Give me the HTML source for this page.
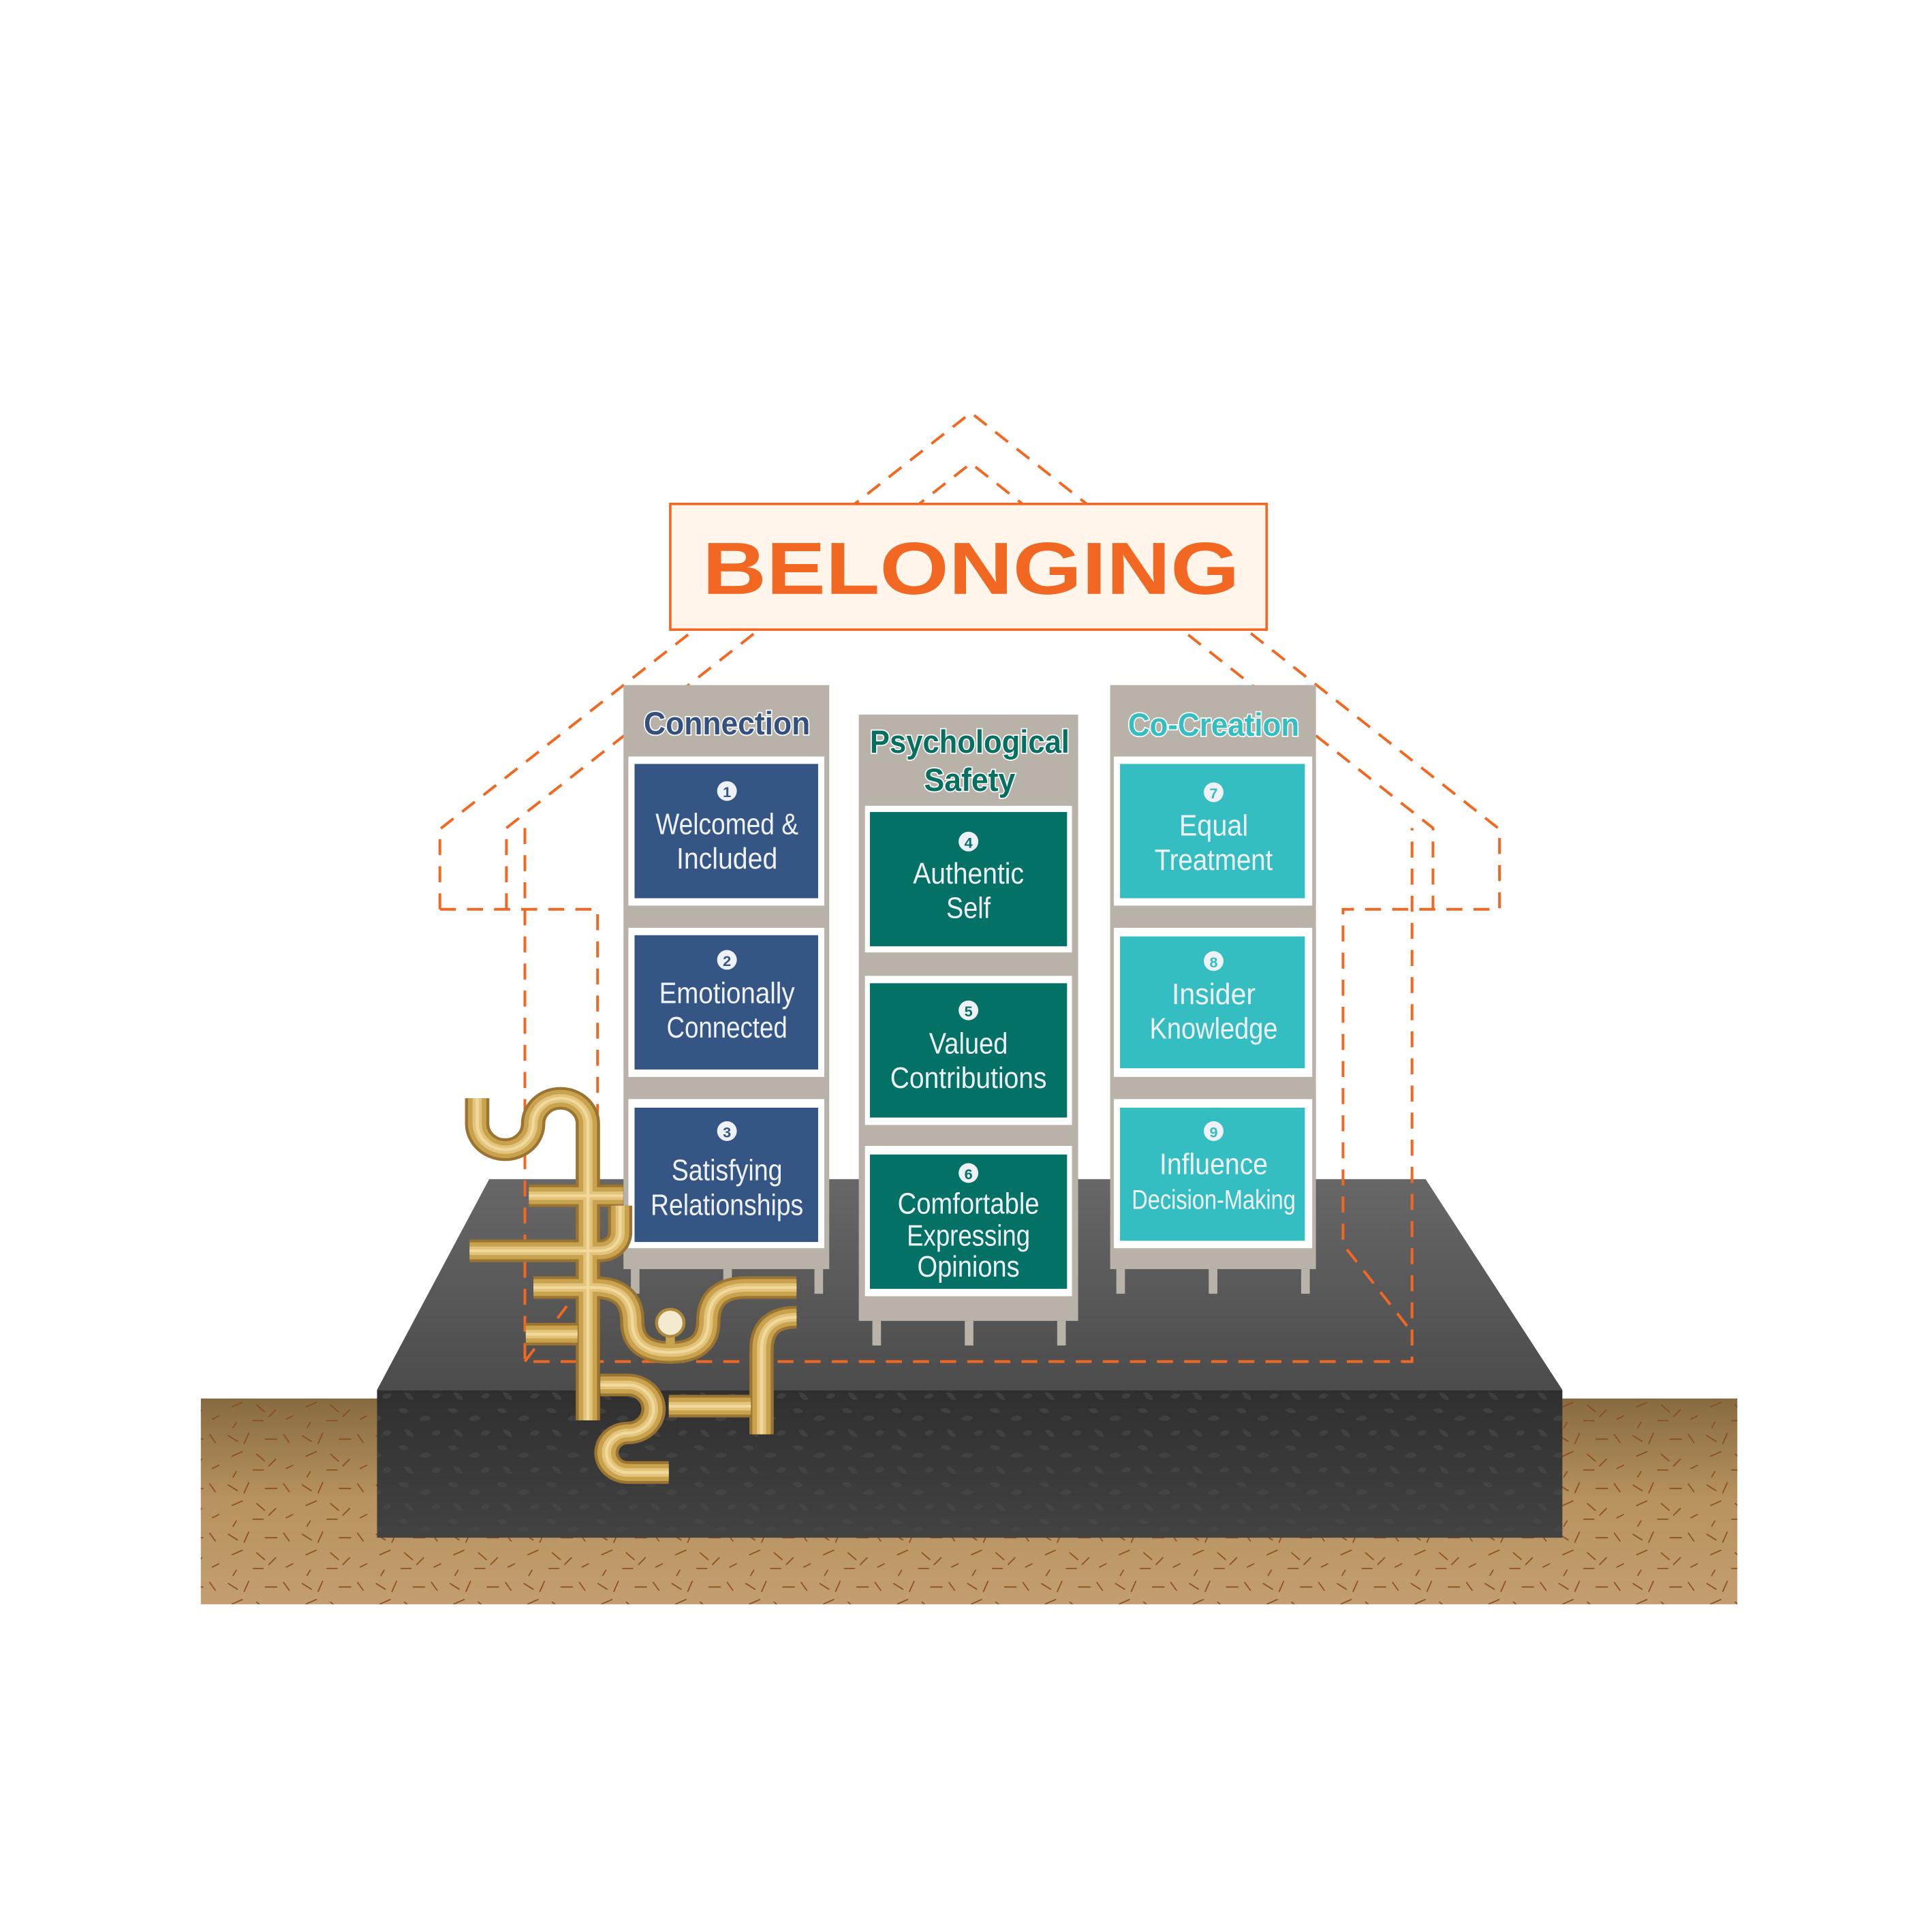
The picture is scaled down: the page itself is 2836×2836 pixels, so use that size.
<!DOCTYPE html>
<html><head><meta charset="utf-8"><style>
html,body{margin:0;padding:0;background:#fff;}
svg{display:block;}
text{font-family:"Liberation Sans",sans-serif;}
</style></head><body>
<svg width="2836" height="2836" viewBox="0 0 1568 1568" xmlns="http://www.w3.org/2000/svg">
<defs>
<linearGradient id="soil" x1="0" y1="0" x2="0" y2="1"><stop offset="0" stop-color="#876b40"/><stop offset="0.5" stop-color="#b8935f"/><stop offset="1" stop-color="#c29e70"/></linearGradient>
<linearGradient id="ptop" x1="0" y1="0" x2="0" y2="1"><stop offset="0" stop-color="#676767"/><stop offset="1" stop-color="#4c4c4c"/></linearGradient>
<linearGradient id="pfront" x1="0" y1="0" x2="0" y2="1"><stop offset="0" stop-color="#2f2f2f"/><stop offset="1" stop-color="#424242"/></linearGradient>
<pattern id="dash" width="60" height="40" patternUnits="userSpaceOnUse">
<g stroke="#8a4a1a" stroke-width="0.9">
<path d="M5 5l8 5M22 3l-4 9M35 8h10M50 4l5 7M8 22l9-4M28 20l7 6M44 24l-6 6M12 34l-3 5M25 33h9M52 32l6-3"/>
</g></pattern>
<pattern id="tex" width="40" height="30" patternUnits="userSpaceOnUse">
<g fill="#4a4a4a" opacity="0.6"><path d="M3 4q6-3 9 2q-5 3-9-2z M20 12q5-6 10-1q-4 4-10 1z M8 20q6 0 8 6q-6 1-8-6z M30 24q3-5 8-2q-3 5-8 2z"/></g></pattern>
</defs>

<rect x="163" y="1135" width="1247" height="167" fill="url(#soil)"/>
<rect x="163" y="1135" width="1247" height="167" fill="url(#dash)"/>
<polygon points="397,957 1157,957 1268,1128 306,1128" fill="url(#ptop)"/>
<rect x="306" y="1128" width="962" height="120" fill="url(#pfront)"/>
<rect x="306" y="1128" width="962" height="120" fill="url(#tex)"/>

<g fill="none" stroke="#f26822" stroke-width="2.2" stroke-dasharray="13 9">
<path d="M357,738 L357,673 L788,335 L1217,673 L1217,738 L1090,738 L1090,1010 L1145,1080"/>
<path d="M357,738 L485,738 L485,1000"/>
<path d="M411,738 L411,672 L788,376 L1163,672 L1163,738"/>
<path d="M426,672 L426,1105 L1146,1105 L1146,672"/>
<path d="M426,1105 L460,1060"/>
</g>

<rect x="544" y="409" width="484" height="102" fill="#fff5ea" stroke="#f26822" stroke-width="2"/>
<text x="788" y="482" text-anchor="middle" font-size="60" font-weight="bold" fill="#f26822" textLength="436" lengthAdjust="spacingAndGlyphs">BELONGING</text>

<g>
<rect x="506" y="556" width="167" height="474" fill="#b8b2a8"/>
<rect x="512" y="1030" width="7" height="20" fill="#b8b2a8"/><rect x="587" y="1030" width="7" height="20" fill="#b8b2a8"/><rect x="661" y="1030" width="7" height="20" fill="#b8b2a8"/>
<text x="590" y="596" text-anchor="middle" font-size="26" font-weight="bold" fill="#33507f" stroke="#fff" stroke-width="2" paint-order="stroke" textLength="135" lengthAdjust="spacingAndGlyphs">Connection</text>
<rect x="510" y="614" width="159" height="121" fill="#fff"/><rect x="515" y="620" width="149" height="109" fill="#355584"/>
<rect x="510" y="753" width="159" height="121" fill="#fff"/><rect x="515" y="759" width="149" height="109" fill="#355584"/>
<rect x="510" y="892" width="159" height="121" fill="#fff"/><rect x="515" y="899" width="149" height="109" fill="#355584"/>
<g font-size="24" fill="#eef1f5" text-anchor="middle">
<circle cx="590" cy="642" r="8" fill="#eef1f5"/><text x="590" y="647" font-size="12" font-weight="bold" fill="#355584">1</text>
<text x="590" y="677" textLength="116" lengthAdjust="spacingAndGlyphs">Welcomed &amp;</text><text x="590" y="705" textLength="82" lengthAdjust="spacingAndGlyphs">Included</text>
<circle cx="590" cy="779" r="8" fill="#eef1f5"/><text x="590" y="784" font-size="12" font-weight="bold" fill="#355584">2</text>
<text x="590" y="814" textLength="110" lengthAdjust="spacingAndGlyphs">Emotionally</text><text x="590" y="842" textLength="98" lengthAdjust="spacingAndGlyphs">Connected</text>
<circle cx="590" cy="918" r="8" fill="#eef1f5"/><text x="590" y="923" font-size="12" font-weight="bold" fill="#355584">3</text>
<text x="590" y="958" textLength="90" lengthAdjust="spacingAndGlyphs">Satisfying</text><text x="590" y="986" textLength="124" lengthAdjust="spacingAndGlyphs">Relationships</text>
</g></g>

<g>
<rect x="697" y="580" width="178" height="492" fill="#b8b2a8"/>
<rect x="708" y="1072" width="7" height="20" fill="#b8b2a8"/><rect x="783" y="1072" width="7" height="20" fill="#b8b2a8"/><rect x="858" y="1072" width="7" height="20" fill="#b8b2a8"/>
<text x="787" y="611" text-anchor="middle" font-size="26" font-weight="bold" fill="#05705f" stroke="#fff" stroke-width="2" paint-order="stroke" textLength="162" lengthAdjust="spacingAndGlyphs">Psychological</text>
<text x="787" y="642" text-anchor="middle" font-size="26" font-weight="bold" fill="#05705f" stroke="#fff" stroke-width="2" paint-order="stroke" textLength="74" lengthAdjust="spacingAndGlyphs">Safety</text>
<rect x="702" y="654" width="168" height="119" fill="#fff"/><rect x="706" y="659" width="160" height="109" fill="#037166"/>
<rect x="702" y="792" width="168" height="121" fill="#fff"/><rect x="706" y="798" width="160" height="109" fill="#037166"/>
<rect x="702" y="930" width="168" height="122" fill="#fff"/><rect x="706" y="937" width="160" height="109" fill="#037166"/>
<g font-size="24" fill="#eef1f5" text-anchor="middle">
<circle cx="786" cy="683" r="8" fill="#eef1f5"/><text x="786" y="688" font-size="12" font-weight="bold" fill="#037166">4</text>
<text x="786" y="717" textLength="90" lengthAdjust="spacingAndGlyphs">Authentic</text><text x="786" y="745" textLength="36" lengthAdjust="spacingAndGlyphs">Self</text>
<circle cx="786" cy="820" r="8" fill="#eef1f5"/><text x="786" y="825" font-size="12" font-weight="bold" fill="#037166">5</text>
<text x="786" y="855" textLength="64" lengthAdjust="spacingAndGlyphs">Valued</text><text x="786" y="883" textLength="127" lengthAdjust="spacingAndGlyphs">Contributions</text>
<circle cx="786" cy="952" r="8" fill="#eef1f5"/><text x="786" y="957" font-size="12" font-weight="bold" fill="#037166">6</text>
<text x="786" y="985" textLength="115" lengthAdjust="spacingAndGlyphs">Comfortable</text><text x="786" y="1011" textLength="100" lengthAdjust="spacingAndGlyphs">Expressing</text><text x="786" y="1036" textLength="83" lengthAdjust="spacingAndGlyphs">Opinions</text>
</g></g>

<g>
<rect x="901" y="556" width="167" height="474" fill="#b8b2a8"/>
<rect x="906" y="1030" width="7" height="20" fill="#b8b2a8"/><rect x="981" y="1030" width="7" height="20" fill="#b8b2a8"/><rect x="1056" y="1030" width="7" height="20" fill="#b8b2a8"/>
<text x="985" y="597" text-anchor="middle" font-size="26" font-weight="bold" fill="#33bfc0" stroke="#fff" stroke-width="2" paint-order="stroke" textLength="139" lengthAdjust="spacingAndGlyphs">Co-Creation</text>
<rect x="904" y="614" width="161" height="121" fill="#fff"/><rect x="909" y="620" width="150" height="109" fill="#35bec2"/>
<rect x="904" y="753" width="161" height="121" fill="#fff"/><rect x="909" y="760" width="150" height="107" fill="#35bec2"/>
<rect x="904" y="892" width="161" height="121" fill="#fff"/><rect x="909" y="899" width="150" height="108" fill="#35bec2"/>
<g font-size="24" fill="#eef1f5" text-anchor="middle">
<circle cx="985" cy="643" r="8" fill="#eef1f5"/><text x="985" y="648" font-size="12" font-weight="bold" fill="#35bec2">7</text>
<text x="985" y="678" textLength="56" lengthAdjust="spacingAndGlyphs">Equal</text><text x="985" y="706" textLength="96" lengthAdjust="spacingAndGlyphs">Treatment</text>
<circle cx="985" cy="780" r="8" fill="#eef1f5"/><text x="985" y="785" font-size="12" font-weight="bold" fill="#35bec2">8</text>
<text x="985" y="815" textLength="68" lengthAdjust="spacingAndGlyphs">Insider</text><text x="985" y="843" textLength="104" lengthAdjust="spacingAndGlyphs">Knowledge</text>
<circle cx="985" cy="918" r="8" fill="#eef1f5"/><text x="985" y="923" font-size="12" font-weight="bold" fill="#35bec2">9</text>
<text x="985" y="953" textLength="88" lengthAdjust="spacingAndGlyphs">Influence</text><text x="985" y="981" font-size="22" textLength="133" lengthAdjust="spacingAndGlyphs">Decision-Making</text>
</g></g>

<g transform="scale(0.55289) translate(600 1550) scale(0.44643 0.41459)" fill="none" stroke-linecap="butt">
<g id="pp">
<path d="M225,150 L225,240 A92,92 0 0 0 409,240 A90,90 0 0 1 589,240 L589,1290"/>
<path d="M395,495 L705,495"/>
<path d="M200,690 L630,690 A65,65 0 0 0 695,625 L695,530"/>
<path d="M410,820 L610,820 Q735,820 735,940 Q735,1050 860,1050 Q985,1050 985,940 Q985,820 1110,820 L1275,820"/>
<path d="M385,985 L555,985"/>
<path d="M1275,925 Q1160,925 1160,1040 L1160,1340"/>
<path d="M630,1165 L720,1165 A85,85 0 0 1 720,1335 A70,70 0 0 0 720,1475 L855,1475"/>
<path d="M855,1240 L1125,1240"/>
</g>
<use href="#pp" stroke="#9a7430" stroke-width="80"/>
<use href="#pp" stroke="#c9a24e" stroke-width="60"/>
<use href="#pp" stroke="#e3c47c" stroke-width="30"/>
<use href="#pp" stroke="#f0d99a" stroke-width="10"/>
<rect x="845" y="990" width="30" height="40" fill="#c9a24e"/>
<ellipse cx="860" cy="945" rx="45" ry="48" fill="#f4ead0" stroke="#b08a3a" stroke-width="10"/>
</g>
</svg>
</body></html>
